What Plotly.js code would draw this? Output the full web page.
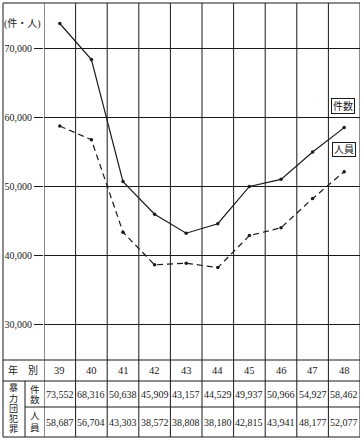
<!DOCTYPE html>
<html>
<head>
<meta charset="utf-8">
<script src="https://cdn.plot.ly/plotly-3.0.1.min.js"></script>
<style>html,body{margin:0;padding:0;background:#fff;}#chart{width:362px;height:445px;}</style>
</head>
<body>
<div id="chart"></div>
<script>
// ---- data ----
const years = [39, 40, 41, 42, 43, 44, 45, 46, 47, 48];
const cases = [73552, 68316, 50638, 45909, 43157, 44529, 49937, 50966, 54927, 58462];
const persons = [58687, 56704, 43303, 38572, 38808, 38180, 42815, 43941, 48177, 52077];
const yTicks = [30000, 40000, 50000, 60000, 70000];
const seriesNames = ['件数', '人員'];
const rowHeader = '年　別';
const groupLabel = '暴力団犯罪';
const unitLabel = '(件・人)';

// ---- layout helpers (pixel -> paper) ----
const W = 362, H = 445;
const mL = 44, mR = 2, mT = 3, mB = 85;
const pw = W - mL - mR, ph = H - mT - mB;
const px = x => (x - mL) / pw;
const py = y => (H - mB - y) / ph;

const FONT = 'Liberation Serif, Noto Sans CJK JP, serif';
const INK = '#1a1a1a';

const leftEdge = px(3);
const subCol = px(25);
const rowTop = py(360), rowHdr = py(381), rowMid = py(407), rowBot = py(437);

const shapes = [];
const line = (x0, y0, x1, y1, xref, yref) => shapes.push({
  type: 'line', xref: xref || 'paper', yref: yref || 'paper',
  x0, y0, x1, y1, line: {color: INK, width: 1}
});
// column boundaries (full height)
years.forEach(yr => line(yr - 0.5, rowBot, yr - 0.5, 1, 'x', 'paper'));
line(years[years.length - 1] + 0.5, rowBot, years[years.length - 1] + 0.5, 1, 'x', 'paper');
// outer frame
line(leftEdge, rowBot, leftEdge, 1);
line(leftEdge, 1, 1, 1);
line(leftEdge, rowTop, 1, rowTop);
line(leftEdge, rowHdr, 1, rowHdr);
line(subCol, rowMid, 1, rowMid);
line(leftEdge, rowBot, 1, rowBot);
line(subCol, rowHdr, subCol, rowBot);

const annotations = [];
const txt = (text, x, y, xref, size) => annotations.push({
  text, x, y, xref: xref || 'paper', yref: 'paper', showarrow: false,
  xanchor: 'center', yanchor: 'middle',
  font: {family: FONT, size: size || 10, color: INK}
});
// vertical text: one annotation per character, evenly spaced in pixel range
const vtxt = (text, cx, yTopPx, yBotPx, size) => {
  const chars = text.split('');
  const step = (yBotPx - yTopPx) / chars.length;
  chars.forEach((c, i) => txt(c, px(cx), py(yTopPx + step * (i + 0.5)), 'paper', size));
};
const fmt = v => v.toLocaleString('en-US');
years.forEach((yr, i) => {
  txt(String(yr), yr, (rowTop + rowHdr) / 2, 'x', 10.5);
  txt(fmt(cases[i]), yr, (rowHdr + rowMid) / 2, 'x', 10);
  txt(fmt(persons[i]), yr, (rowMid + rowBot) / 2, 'x', 10);
});
txt(rowHeader, px(23), (rowTop + rowHdr) / 2, 'paper', 10);
vtxt(groupLabel, 14, 383, 434, 9);
vtxt(seriesNames[0], 35, 384, 404, 9.5);
vtxt(seriesNames[1], 35, 411, 433, 9.5);
txt(unitLabel, px(22.5), py(24), 'paper', 10);
// in-plot labels
[[seriesNames[0], 343, 106], [seriesNames[1], 344, 149]].forEach(([t, x, y]) => {
  annotations.push({
    text: t, x: px(x), y: py(y), xref: 'paper', yref: 'paper', showarrow: false,
    xanchor: 'center', yanchor: 'middle', bordercolor: INK, borderwidth: 1, borderpad: 1,
    font: {family: FONT, size: 10, color: INK}
  });
});

const traces = [
  {x: years, y: cases, name: seriesNames[0], type: 'scatter', mode: 'lines+markers',
   line: {color: INK, width: 1.2}, marker: {color: INK, size: 3.5}},
  {x: years, y: persons, name: seriesNames[1], type: 'scatter', mode: 'lines+markers',
   line: {color: INK, width: 1.2, dash: '6px,4px'}, marker: {color: INK, size: 3.5}}
];

const layout = {
  width: W, height: H,
  margin: {l: mL, r: mR, t: mT, b: mB, pad: 0},
  paper_bgcolor: '#fff', plot_bgcolor: '#fff',
  showlegend: false,
  xaxis: {range: [years[0] - 0.5, years[years.length - 1] + 0.5], showgrid: false,
          zeroline: false, showticklabels: false, ticks: '', showline: false, fixedrange: true},
  yaxis: {range: [24783, 76522], tickvals: yTicks, tickformat: ',d',
          showgrid: true, gridcolor: INK, gridwidth: 1, zeroline: false, showline: false,
          ticks: 'outside', ticklen: 9, tickcolor: INK, tickwidth: 1,
          tickfont: {family: FONT, size: 10, color: INK}, fixedrange: true},
  shapes, annotations
};

Plotly.newPlot('chart', traces, layout, {displayModeBar: false, staticPlot: true});
</script>
</body>
</html>
